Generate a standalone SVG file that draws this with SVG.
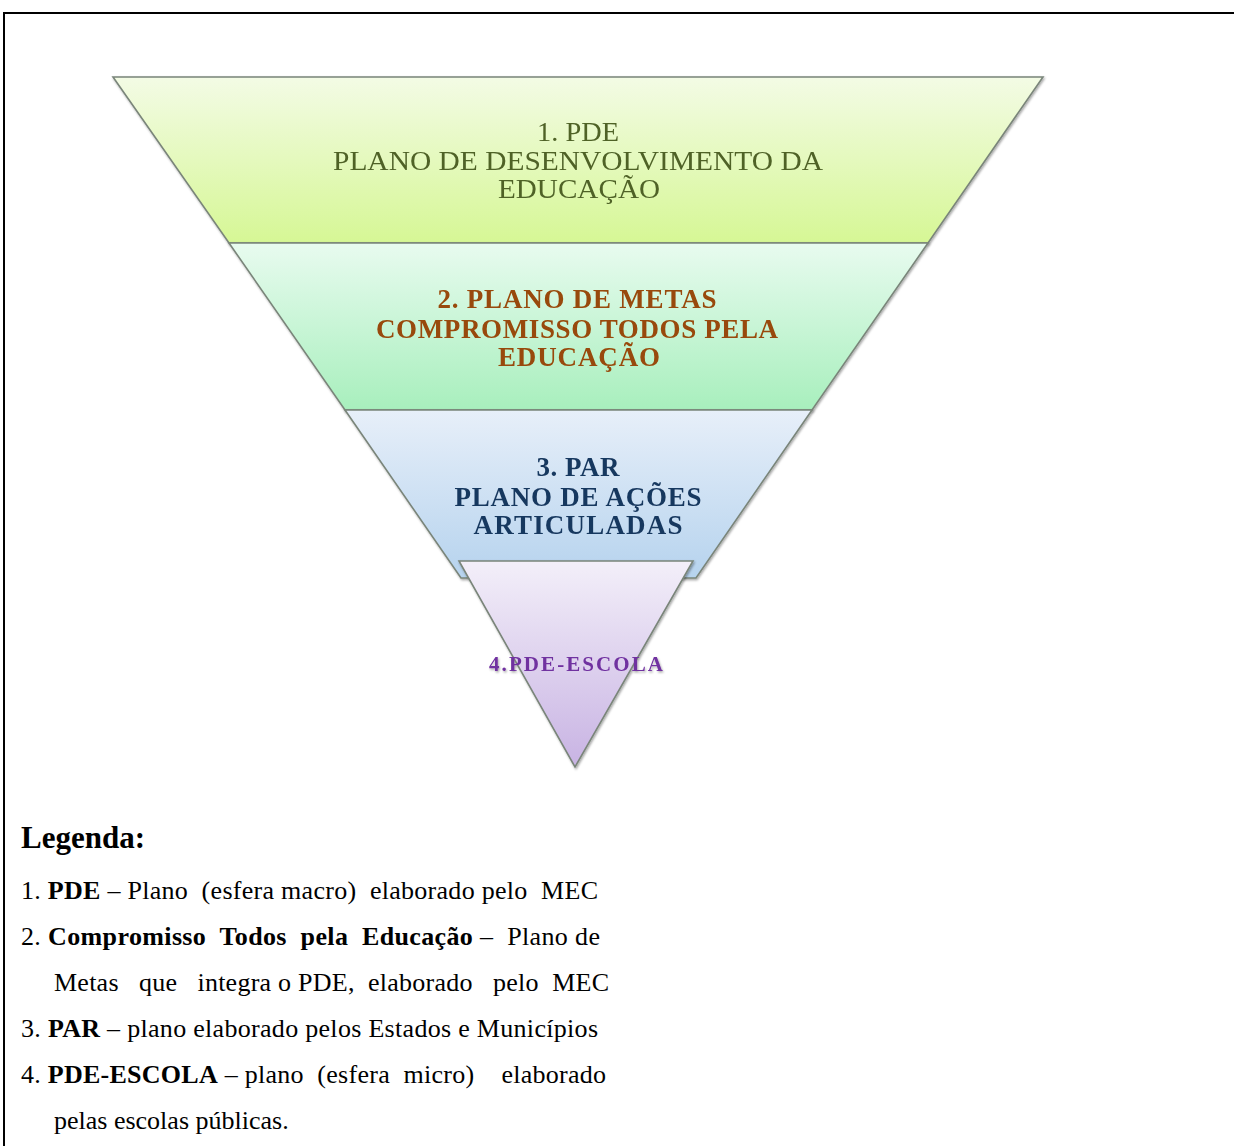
<svg xmlns="http://www.w3.org/2000/svg" width="1234" height="1146" viewBox="0 0 1234 1146">
<style>
.seg{stroke:#7a857a;stroke-width:1.6;stroke-linejoin:miter}
.pt{font-family:"Liberation Serif","Times New Roman",serif;text-anchor:middle}
.t1{fill:#4f6228;font-size:28px}
.t2{fill:#984807;font-size:27px;font-weight:bold}
.t3{fill:#17375e;font-size:27px;font-weight:bold}
.t4{fill:#7030a0;font-size:21px;font-weight:bold}
.lg{font-family:"Liberation Serif","Times New Roman",serif;font-size:26px;fill:#000;white-space:pre}
.b{font-weight:bold}
</style>
<defs>
<linearGradient id="g1" x1="0" y1="0" x2="0" y2="1"><stop offset="0" stop-color="#f3fbe5"/><stop offset="1" stop-color="#d6f795"/></linearGradient>
<linearGradient id="g2" x1="0" y1="0" x2="0" y2="1"><stop offset="0" stop-color="#e8fbef"/><stop offset="1" stop-color="#a8efbd"/></linearGradient>
<linearGradient id="g3" x1="0" y1="0" x2="0" y2="1"><stop offset="0" stop-color="#e7eff9"/><stop offset="1" stop-color="#b6d3ee"/></linearGradient>
<linearGradient id="g4" x1="0" y1="0" x2="0" y2="1"><stop offset="0" stop-color="#f3eff9"/><stop offset="1" stop-color="#c8b3e3"/></linearGradient>
<filter id="sh" x="-5%" y="-5%" width="110%" height="110%"><feDropShadow dx="1" dy="1.5" stdDeviation="0.8" flood-color="#000" flood-opacity="0.35"/></filter>
</defs>
<rect width="1234" height="1146" fill="#fff"/>
<g id="frame" stroke="#000" stroke-width="2" fill="none">
<line x1="3" y1="13" x2="1234" y2="13"/>
<line x1="4" y1="12" x2="4" y2="1146"/>
</g>
<g id="connectors"></g>
<g id="node-pde" filter="url(#sh)">
<polygon class="seg" points="113,77 1043,77 928,243 229,243" fill="url(#g1)"/>
<text class="pt t1" x="578" y="141" textLength="82" lengthAdjust="spacingAndGlyphs">1. PDE</text>
<text class="pt t1" x="578" y="170" textLength="490" lengthAdjust="spacingAndGlyphs">PLANO DE DESENVOLVIMENTO DA</text>
<text class="pt t1" x="579" y="198" textLength="162" lengthAdjust="spacingAndGlyphs">EDUCAÇÃO</text>
</g>
<g id="node-metas" filter="url(#sh)">
<polygon class="seg" points="229,243 928,243 812,410 345,410" fill="url(#g2)"/>
<text class="pt t2" x="577" y="308" textLength="279" lengthAdjust="spacing">2. PLANO DE METAS</text>
<text class="pt t2" x="577" y="338" textLength="402" lengthAdjust="spacing">COMPROMISSO TODOS PELA</text>
<text class="pt t2" x="579" y="366" textLength="162" lengthAdjust="spacing">EDUCAÇÃO</text>
</g>
<g id="node-par" filter="url(#sh)">
<polygon class="seg" points="345,410 812,410 696,578 461,578" fill="url(#g3)"/>
<text class="pt t3" x="578" y="476" textLength="83" lengthAdjust="spacing">3. PAR</text>
<text class="pt t3" x="578" y="506" textLength="247" lengthAdjust="spacing">PLANO DE AÇÕES</text>
<text class="pt t3" x="578" y="534" textLength="209" lengthAdjust="spacing">ARTICULADAS</text>
</g>
<g id="node-pde-escola" filter="url(#sh)">
<polygon class="seg" points="459,561 693,561 575,767" fill="url(#g4)"/>
<text class="pt t4" x="576" y="671" textLength="174" lengthAdjust="spacing">4.PDE-ESCOLA</text>
</g>
<g id="legend">
<text class="lg b" x="21" y="848" style="font-size:31px">Legenda:</text>
<text class="lg" x="21" y="899" textLength="577" lengthAdjust="spacing" xml:space="preserve">1. <tspan class="b">PDE</tspan> – Plano  (esfera macro)  elaborado pelo  MEC</text>
<text class="lg" x="21" y="945" textLength="579" lengthAdjust="spacing" xml:space="preserve">2. <tspan class="b">Compromisso  Todos  pela  Educação</tspan> –  Plano de</text>
<text class="lg" x="54" y="991" textLength="555" lengthAdjust="spacing" xml:space="preserve">Metas   que   integra o PDE,  elaborado   pelo  MEC</text>
<text class="lg" x="21" y="1037" textLength="577" lengthAdjust="spacing" xml:space="preserve">3. <tspan class="b">PAR</tspan> – plano elaborado pelos Estados e Municípios</text>
<text class="lg" x="21" y="1083" textLength="585" lengthAdjust="spacing" xml:space="preserve">4. <tspan class="b">PDE-ESCOLA</tspan> – plano  (esfera  micro)    elaborado</text>
<text class="lg" x="54" y="1129">pelas escolas públicas.</text>
</g>
</svg>
